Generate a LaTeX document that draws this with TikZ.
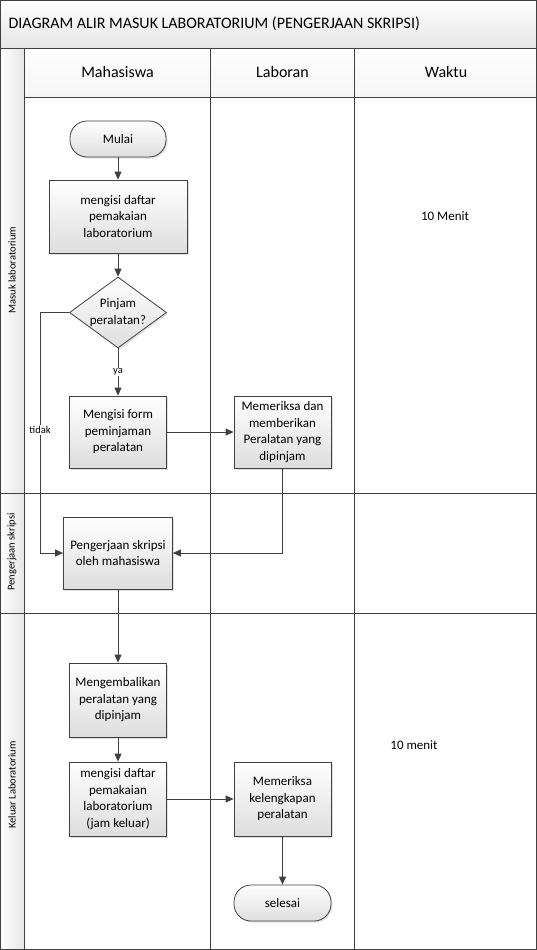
\documentclass[tikz,border=0pt]{standalone}
\usepackage{fontspec}
\setmainfont{Carlito}
\usepackage{tikz}
\usetikzlibrary{shapes.geometric}
\usetikzlibrary{arrows.meta}
\usetikzlibrary{shadows}

\newcommand{\isi}{\fontsize{13}{16.5}\selectfont}
\newcommand{\judul}{\fontsize{16}{19}\selectfont}
\newcommand{\kecil}{\fontsize{10.5}{12}\selectfont}

\begin{document}
\begin{tikzpicture}[
    x=1pt, y=-1pt,
    garis/.style={draw=black!75, line width=0.8pt},
    proses/.style={rectangle, draw=black!75, line width=0.8pt,
      top color=white, bottom color=black!13,
      drop shadow={shadow xshift=1.5pt, shadow yshift=-1.5pt, opacity=0.25},
      minimum width=97pt, minimum height=72pt, align=center, font=\isi, inner sep=2pt},
    terminal/.style={proses, rounded corners=17pt, minimum height=36pt},
    keputusan/.style={proses, diamond, minimum height=71pt, aspect=1.37, inner sep=0pt},
    panah/.style={draw=black!75, line width=0.8pt, -{Triangle[length=8pt,width=7pt]}},
    ket/.style={font=\kecil, fill=white, inner sep=1pt},
  ]

  \useasboundingbox (0,0) rectangle (537,950);

  % latar judul dan kolom
  \shade[top color=white, bottom color=black!10] (0,0) rectangle (537,48.5);
  \shade[top color=white, bottom color=black!4] (24,48.5) rectangle (537,97.5);
  \shade[left color=white, right color=black!10] (0,48.5) rectangle (24,950);

  % garis tabel
  \draw[garis] (0.5,0.5) rectangle (536.5,949.5);
  \draw[garis] (0,48.5) -- (537,48.5);
  \draw[garis] (24,97.5) -- (537,97.5);
  \draw[garis] (0,493) -- (537,493);
  \draw[garis] (0,613.5) -- (537,613.5);
  \draw[garis] (24,48.5) -- (24,950);
  \draw[garis] (210.5,48.5) -- (210.5,950);
  \draw[garis] (354.5,48.5) -- (354.5,950);

  \node[anchor=west, font=\judul] (judul) at (5,24) {DIAGRAM ALIR MASUK LABORATORIUM (PENGERJAAN SKRIPSI)};
  \node[font=\judul] (mhs) at (117.5,72) {Mahasiswa};
  \node[font=\judul] (lab) at (282.5,72) {Laboran};
  \node[font=\judul] (wkt) at (446,72) {Waktu};

  \node[font=\kecil, rotate=90] (masuk) at (12,270) {Masuk laboratorium};
  \node[font=\kecil, rotate=90] (kerja) at (12,552) {Pengerjaan skripsi};
  \node[font=\kecil, rotate=90] (keluar) at (12,785) {Keluar Laboratorium};

  \node[font=\isi] (waktu1) at (445,216) {10 Menit};
  \node[font=\isi] (waktu2) at (414,745) {10 menit};

  \node[terminal, minimum width=96pt] (mulai) at (118,139) {Mulai};
  \node[proses, minimum width=138pt, minimum height=73pt] (daftar) at (118,216.5) {mengisi daftar\\pemakaian\\laboratorium};
  \node[keputusan] (pinjam) at (118,312.5) {Pinjam\\peralatan?};
  \node[proses] (form) at (118,432) {Mengisi form\\peminjaman\\peralatan};
  \node[proses] (beri) at (282.5,432) {Memeriksa dan\\memberikan\\Peralatan yang\\dipinjam};
  \node[proses, minimum width=109pt] (skripsi) at (118,553) {Pengerjaan skripsi\\oleh mahasiswa};
  \node[proses, minimum height=74pt] (kembali) at (118,700) {Mengembalikan\\peralatan yang\\dipinjam};
  \node[proses, minimum height=74pt] (daftar2) at (118,799) {mengisi daftar\\pemakaian\\laboratorium\\(jam keluar)};
  \node[proses, minimum height=74pt] (periksa) at (282.5,799) {Memeriksa\\kelengkapan\\peralatan};
  \node[terminal] (selesai) at (282.5,903) {selesai};
  \coordinate (belok) at (40,312.5);

  \draw[panah] (mulai) -- (daftar);
  \draw[panah] (daftar) -- (pinjam);
  \draw[panah] (pinjam) -- node[ket] {ya} (form);
  \draw[panah] (pinjam.west) -- (belok) |- node[ket, pos=0.244] {tidak} (skripsi.west);
  \draw[panah] (form) -- (beri);
  \draw[panah] (beri) |- (skripsi);
  \draw[panah] (skripsi) -- (kembali);
  \draw[panah] (kembali) -- (daftar2);
  \draw[panah] (daftar2) -- (periksa);
  \draw[panah] (periksa) -- (selesai);

\end{tikzpicture}
\end{document}
